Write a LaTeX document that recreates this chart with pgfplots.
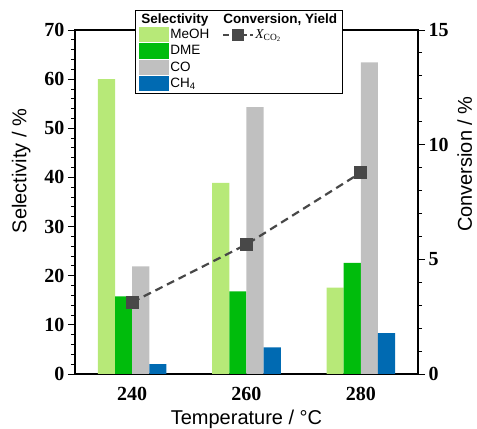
\documentclass[border=0pt]{standalone}
\usepackage{pgfplots}
\usepackage{pgfplotstable}
\pgfplotsset{compat=1.18}
\usepackage{fontspec}
\setmainfont{Liberation Serif}
\setsansfont{Liberation Sans}

\definecolor{meoh}{RGB}{183,233,120}
\definecolor{dme}{RGB}{0,188,12}
\definecolor{cogray}{RGB}{192,192,192}
\definecolor{chfour}{RGB}{0,106,178}
\definecolor{conv}{RGB}{72,72,72}

% selectivities (%) and CO2 conversion (%) at 240, 260, 280 C
\pgfplotstableread{
x meoh dme co ch4 conv
0 60.0 15.8 21.9 2.0 3.13
1 38.9 16.8 54.3 5.4 5.65
2 17.6 22.6 63.4 8.3 8.78
}\datatable

\pgfplotsset{
  common/.style={
    width=343pt, height=344pt, scale only axis,
    xmin=-0.5, xmax=2.5,
    tick align=outside,
    major tick length=7pt, minor tick length=4pt,
    every tick/.style={black, line width=0.9pt},
    axis line style={line width=1.2pt},
    tick label style={font=\fontsize{20}{20}\selectfont\bfseries},
    label style={font=\sffamily\fontsize{20}{22}\selectfont},
    /pgf/number format/assume math mode=true,
  },
  patch/.style={legend image code/.code={\fill[##1] (0pt,-7.6pt) rectangle (30pt,7.6pt);}},
  convline/.style={conv, line width=2.2pt, dash pattern=on 8pt off 5pt,
    mark=square*, mark size=5.5pt, mark options={solid, fill=conv}},
  convlegend/.style={conv, mark=square*, mark options={solid, fill=conv},
    legend image code/.code={%
      \draw[##1, line width=2pt, dash pattern=on 6pt off 3pt, mark size=5pt,
        mark repeat=2, mark phase=2]
        plot coordinates {(0pt,0pt) (15pt,0pt) (30pt,0pt)};}},
}

\begin{document}
\begin{tikzpicture}
\begin{axis}[common, name=main,
  ymin=0, ymax=70, ytick={0,10,...,70}, minor y tick num=4,
  ytick pos=left, xtick pos=bottom,
  xtick={0,1,2}, xticklabels={240,260,280},
  xtick style={draw=none},
  xticklabel style={yshift=-3pt},
  bar width=0.15,
  xlabel={Temperature / \textdegree C},
  xlabel style={yshift=-2pt},
  ylabel={Selectivity / \%},
  every axis y label/.append style={at={(ticklabel cs:0.59)}, yshift=7pt},
  legend columns=2,
  legend cell align=left,
  legend style={at={(axis description cs:0.175,1.058)}, anchor=north west,
    font=\sffamily\fontsize{13.5}{14}\selectfont, draw=black, line width=0.9pt,
    fill=white, row sep=1.2pt, inner xsep=4pt, inner ysep=2pt, nodes={inner sep=1pt},
    /tikz/every even column/.append style={column sep=12pt}},
]
\addlegendimage{empty legend}
\addlegendentry{\hspace*{-29pt}\textbf{Selectivity}}
\addlegendimage{empty legend}
\addlegendentry{\hspace*{-32pt}\textbf{Conversion, Yield}}

\addplot[ybar, bar shift=-0.225, fill=meoh, draw=none, patch] table[x=x, y=meoh] {\datatable};
\addlegendentry{MeOH}
\addlegendimage{convlegend}
\addlegendentry{{\rmfamily\itshape X}\textsubscript{\rmfamily CO\textsubscript{2}}}

\addplot[ybar, bar shift=-0.075, fill=dme, draw=none, patch] table[x=x, y=dme] {\datatable};
\addlegendentry{DME}
\addlegendimage{empty legend}
\addlegendentry{}

\addplot[ybar, bar shift=0.075, fill=cogray, draw=none, patch] table[x=x, y=co] {\datatable};
\addlegendentry{CO}
\addlegendimage{empty legend}
\addlegendentry{}

\addplot[ybar, bar shift=0.225, fill=chfour, draw=none, patch] table[x=x, y=ch4] {\datatable};
\addlegendentry{CH\textsubscript{4}}
\addlegendimage{empty legend}
\addlegendentry{}
\end{axis}

\begin{axis}[common,
  axis x line=none, axis y line*=right,
  ymin=0, ymax=15, ytick={0,5,10,15}, minor y tick num=4,
  ylabel={Conversion / \%},
  every axis y label/.append style={at={(ticklabel cs:0.61)}, yshift=-2pt},
]
\addplot[convline] table[x=x, y=conv] {\datatable};
\end{axis}

\pgfresetboundingbox
\path ([shift={(-75pt,-55pt)}]main.south west) rectangle ([shift={(59pt,30pt)}]main.north east);
\end{tikzpicture}
\end{document}
